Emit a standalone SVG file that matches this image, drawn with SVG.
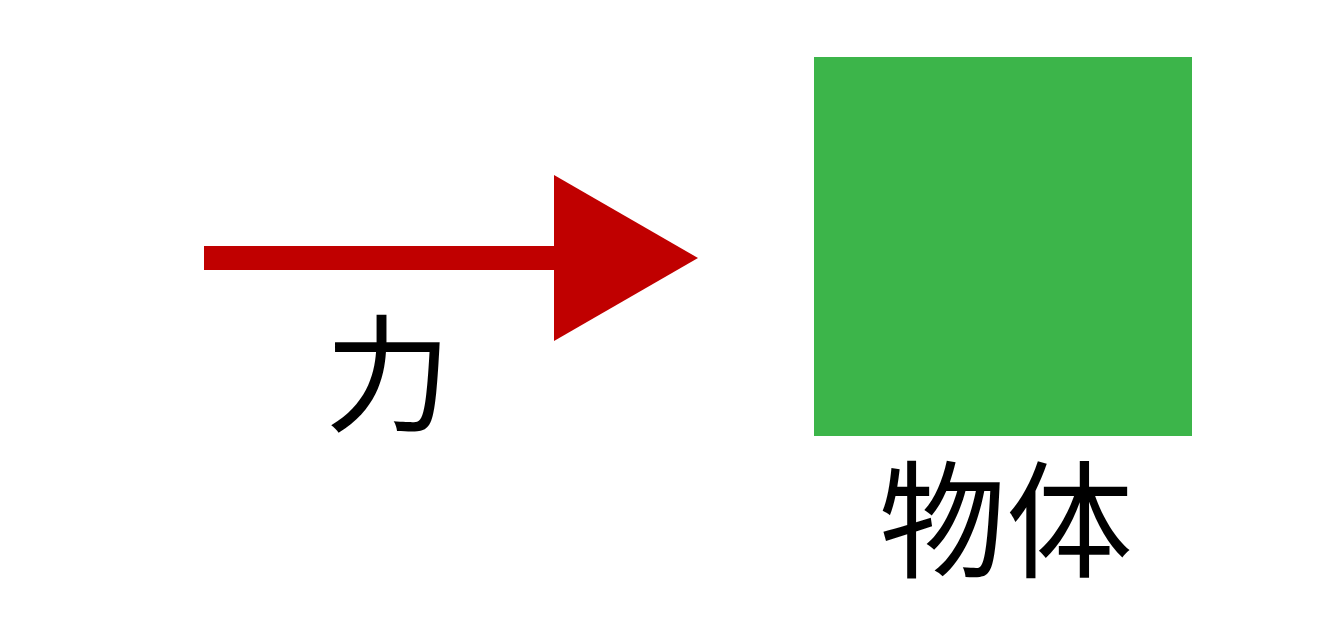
<svg xmlns="http://www.w3.org/2000/svg" width="1333" height="625" viewBox="0 0 1333 625">
<style>
.lbl{font-family:"Noto Sans CJK SC","Noto Sans CJK JP",sans-serif;font-size:127px;fill:#000;text-anchor:middle}
</style>
<rect width="1333" height="625" fill="#fff"/>
<g id="connectors">
<g id="force-arrow">
<rect x="204" y="246" width="352" height="24" fill="#c00000"/>
<polygon points="554,175 698,258 554,341" fill="#c00000"/>
</g>
</g>
<text class="lbl" x="388" y="422">力</text>
<g id="object">
<rect x="814" y="57" width="378" height="379" fill="#3cb54a"/>
<text class="lbl" x="1006" y="568">物体</text>
</g>
</svg>
